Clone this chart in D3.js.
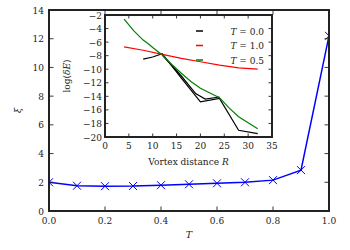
<!DOCTYPE html>
<html>
<head>
<meta charset="utf-8" />
<script src="https://cdn.jsdelivr.net/npm/d3@7"></script>
<style>
  html, body { margin: 0; padding: 0; background: #fff; }
  text { font-family: "DejaVu Serif", "Liberation Serif", serif; fill: #222; }
  .frame { fill: none; stroke: #222; stroke-width: 2px; }
  .tick-line { stroke: #222; stroke-width: 0.9px; }
</style>
</head>
<body>
<div id="chart"></div>
<script>
// main curve: correlation length vs temperature
const temps = [0.0, 0.1, 0.2, 0.3, 0.4, 0.5, 0.6, 0.7, 0.8, 0.9, 1.0];
const xi = [2.0, 1.76, 1.73, 1.74, 1.8, 1.86, 1.93, 2.0, 2.15, 2.85, 12.2];
const mainXTicks = [0.0, 0.2, 0.4, 0.6, 0.8, 1.0];
const mainYTicks = [0, 2, 4, 6, 8, 10, 12, 14];

// inset: log(dE) vs vortex distance
const rBlack = [8, 10, 12, 16, 20, 24, 28, 32];
const eBlack = [-8.5, -8.2, -7.7, -11.3, -14.8, -14.3, -19.0, -19.5];
const rBlack2 = [12, 16, 19, 21, 24];
const eBlack2 = [-7.9, -11.0, -13.6, -14.4, -14.1];
const rRed = [4, 8, 12, 16, 20, 24, 28, 32];
const eRed = [-6.7, -7.2, -7.8, -8.4, -8.9, -9.4, -9.8, -10.0];
const rGreen = [4, 6, 8, 9, 10, 12, 14, 16, 18, 20, 22, 24, 26, 28, 30, 32];
const eGreen = [-2.6, -4.3, -5.7, -6.2, -6.8, -7.9, -9.3, -10.6, -11.8, -12.8, -13.5, -14.2, -15.7, -17.0, -17.9, -18.8];
const insetXTicks = [0, 5, 10, 15, 20, 25, 30, 35];
const insetYTicks = [-2, -4, -6, -8, -10, -12, -14, -16, -18, -20];
const legendLabels = ["0.0", "1.0", "0.5"];
const legendColors = ["#000000", "#ff0000", "#008000"];

const W = 350, H = 250;
const svg = d3.select("#chart").append("svg").attr("width", W).attr("height", H);

const x = d3.scaleLinear().domain([0, 1]).range([49, 329]);
const y = d3.scaleLinear().domain([0, 14]).range([211, 10]);

svg.append("clipPath").attr("id", "clipMain").append("rect")
  .attr("x", x(0)).attr("y", y(14)).attr("width", x(1) - x(0)).attr("height", y(0) - y(14));

// ticks on all four sides, pointing inwards
function ticksAll(g, xs, ys, xTicks, yTicks, len) {
  const [x0, x1] = xs.range(), [y0, y1] = ys.range();
  xTicks.forEach(t => {
    g.append("line").attr("class", "tick-line").attr("x1", xs(t)).attr("x2", xs(t)).attr("y1", y0).attr("y2", y0 - len);
    g.append("line").attr("class", "tick-line").attr("x1", xs(t)).attr("x2", xs(t)).attr("y1", y1).attr("y2", y1 + len);
  });
  yTicks.forEach(t => {
    g.append("line").attr("class", "tick-line").attr("x1", x0).attr("x2", x0 + len).attr("y1", ys(t)).attr("y2", ys(t));
    g.append("line").attr("class", "tick-line").attr("x1", x1).attr("x2", x1 - len).attr("y1", ys(t)).attr("y2", ys(t));
  });
}

const main = svg.append("g");
const pts = temps.map((t, i) => [t, xi[i]]);
const line = d3.line().x(d => x(d[0])).y(d => y(d[1]));
const plot = main.append("g").attr("clip-path", "url(#clipMain)");
plot.append("path").datum(pts).attr("d", line)
  .attr("fill", "none").attr("stroke", "#0000ff").attr("stroke-width", 1.5);
plot.selectAll(".mk").data(pts).enter().append("path")
  .attr("class", "mk")
  .attr("transform", d => `translate(${x(d[0])},${y(d[1])})`)
  .attr("d", "M-4,-4L4,4M-4,4L4,-4")
  .attr("stroke", "#0000ff").attr("stroke-width", 1);

ticksAll(main, x, y, mainXTicks, mainYTicks, 4.5);
main.append("rect").attr("class", "frame")
  .attr("x", x(0)).attr("y", y(14)).attr("width", x(1) - x(0)).attr("height", y(0) - y(14));

main.selectAll(".xl").data(mainXTicks).enter().append("text")
  .attr("x", d => x(d)).attr("y", y(0) + 13).attr("text-anchor", "middle")
  .style("font-size", "9px").text(d => d.toFixed(1));
main.selectAll(".yl").data(mainYTicks).enter().append("text")
  .attr("x", x(0) - 5).attr("y", d => y(d) + 3.5).attr("text-anchor", "end")
  .style("font-size", "9px").text(d => d);
main.append("text").attr("x", (x(0) + x(1)) / 2).attr("y", 238).attr("text-anchor", "middle")
  .style("font-size", "9.5px").style("font-style", "italic").text("T");
main.append("text").attr("transform", `translate(21,${(y(0) + y(14)) / 2}) rotate(-90)`)
  .attr("text-anchor", "middle").style("font-size", "9.5px").style("font-style", "italic").text("ξ");

// inset
const ix = d3.scaleLinear().domain([0, 35]).range([105, 272]);
const iy = d3.scaleLinear().domain([-20, -2]).range([137, 15]);
const inset = svg.append("g");
inset.append("rect").attr("x", ix(0)).attr("y", iy(-2)).attr("width", ix(35) - ix(0))
  .attr("height", iy(-20) - iy(-2)).attr("fill", "#fff");

svg.append("clipPath").attr("id", "clipInset").append("rect")
  .attr("x", ix(0)).attr("y", iy(-2)).attr("width", ix(35) - ix(0)).attr("height", iy(-20) - iy(-2));

const iline = d3.line().x(d => ix(d[0])).y(d => iy(d[1]));
const series = [
  { r: rBlack, e: eBlack, c: "#000000" },
  { r: rBlack2, e: eBlack2, c: "#000000" },
  { r: rRed, e: eRed, c: "#ff0000" },
  { r: rGreen, e: eGreen, c: "#008000" }
];
const iplot = inset.append("g").attr("clip-path", "url(#clipInset)");
series.forEach(s => {
  iplot.append("path").datum(s.r.map((r, i) => [r, s.e[i]])).attr("d", iline)
    .attr("fill", "none").attr("stroke", s.c).attr("stroke-width", 1.2);
});

ticksAll(inset, ix, iy, insetXTicks, insetYTicks, 3.5);
inset.append("rect").attr("class", "frame")
  .attr("x", ix(0)).attr("y", iy(-2)).attr("width", ix(35) - ix(0)).attr("height", iy(-20) - iy(-2));

inset.selectAll(".ixl").data(insetXTicks).enter().append("text")
  .attr("x", d => ix(d)).attr("y", iy(-20) + 12).attr("text-anchor", "middle")
  .style("font-size", "9px").text(d => d);
inset.selectAll(".iyl").data(insetYTicks).enter().append("text")
  .attr("x", ix(0) - 3).attr("y", d => iy(d) + 3.5).attr("text-anchor", "end")
  .style("font-size", "9px").text(d => "\u2212" + Math.abs(d));
inset.append("text").attr("x", (ix(0) + ix(35)) / 2).attr("y", 165).attr("text-anchor", "middle")
  .style("font-size", "9px").html('Vortex distance <tspan font-style="italic">R</tspan>');
inset.append("text").attr("transform", `translate(70,${(iy(-2) + iy(-20)) / 2}) rotate(-90)`)
  .attr("text-anchor", "middle").style("font-size", "9px")
  .html('log(<tspan font-style="italic">δE</tspan>)');

// legend
legendLabels.forEach((l, i) => {
  const ly = 31 + i * 14.5;
  inset.append("line").attr("x1", 196).attr("x2", 203).attr("y1", ly).attr("y2", ly)
    .attr("stroke", legendColors[i]).attr("stroke-width", 1.5);
  inset.append("text").attr("x", 264).attr("y", ly + 3.5).attr("text-anchor", "end")
    .style("font-size", "9px")
    .html(`<tspan font-style="italic">T</tspan> = ${l}`);
});
</script>
</body>
</html>
